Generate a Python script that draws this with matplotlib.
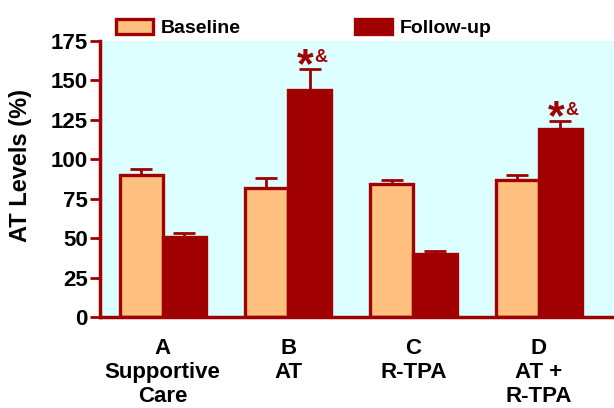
import matplotlib
matplotlib.use("Agg")
import matplotlib.pyplot as plt
import numpy as np

groups = ["A\nSupportive\nCare", "B\nAT", "C\nR-TPA", "D\nAT +\nR-TPA"]
baseline = [90, 82, 84, 87]
baseline_err = [4, 6, 3, 3]
followup = [51, 144, 40, 119]
followup_err = [2, 13, 2, 5]
sig_marks = ["", "*&", "", "*&"]

DARK = "#A00000"
LIGHT = "#FFC080"
BG = "#DDFFFF"

plt.rcParams["font.family"] = ["Liberation Sans", "DejaVu Sans"]
plt.rcParams["font.weight"] = "bold"

fig = plt.figure(figsize=(6.14, 4.08), dpi=100)
ax = fig.add_axes([0.163, 0.223, 0.837, 0.677])
ax.set_facecolor(BG)

x = np.arange(len(groups))
w = 0.345

ax.bar(x - w / 2, baseline, w, color=LIGHT, edgecolor=DARK, linewidth=2.4,
       label="Baseline", zorder=2)
ax.bar(x + w / 2, followup, w, color=DARK, edgecolor=DARK, linewidth=2.4,
       label="Follow-up", zorder=2)

ax.errorbar(x - w / 2, baseline, yerr=[np.zeros(4), baseline_err], fmt="none",
            ecolor=DARK, elinewidth=2, capsize=8, capthick=2, zorder=1)
ax.errorbar(x + w / 2, followup, yerr=[np.zeros(4), followup_err], fmt="none",
            ecolor=DARK, elinewidth=2, capsize=8, capthick=2, zorder=1)

for i, m in enumerate(sig_marks):
    if not m:
        continue
    top = followup[i] + followup_err[i]
    ax.annotate("*", (x[i] + w / 2, top), xytext=(-3, -12), textcoords="offset points",
                ha="center", va="bottom", fontsize=31, color=DARK, fontweight="bold")
    ax.annotate("&", (x[i] + w / 2, top), xytext=(8, 2), textcoords="offset points",
                ha="center", va="bottom", fontsize=13, color=DARK, fontweight="bold")

ax.set_ylim(0, 175)
ax.set_xlim(-0.5, 3.6)
ax.set_yticks(np.arange(0, 176, 25))
ax.set_xticks(x)
ax.set_xticklabels(groups, fontsize=16, fontweight="bold", linespacing=1.2)
ax.tick_params(axis="x", length=0, pad=15)
ax.tick_params(axis="y", colors=DARK, width=2, length=7, labelsize=16, labelcolor="black", pad=2)
for lab in ax.get_yticklabels():
    lab.set_fontweight("bold")

for s in ["top", "right"]:
    ax.spines[s].set_visible(False)
for s in ["left", "bottom"]:
    ax.spines[s].set_color(DARK)
    ax.spines[s].set_linewidth(2.5)

ax.set_ylabel("AT Levels (%)", fontsize=17, fontweight="bold")
ax.yaxis.set_label_coords(-0.132, 0.55)

ax.legend(loc="lower left", bbox_to_anchor=(0.015, 0.985), ncol=2, frameon=False,
          handlelength=1.9, handleheight=0.75, columnspacing=5.9,
          handletextpad=0.4, borderaxespad=0.0, prop={"weight": "bold", "size": 14})

fig.savefig("out.png", dpi=100)
